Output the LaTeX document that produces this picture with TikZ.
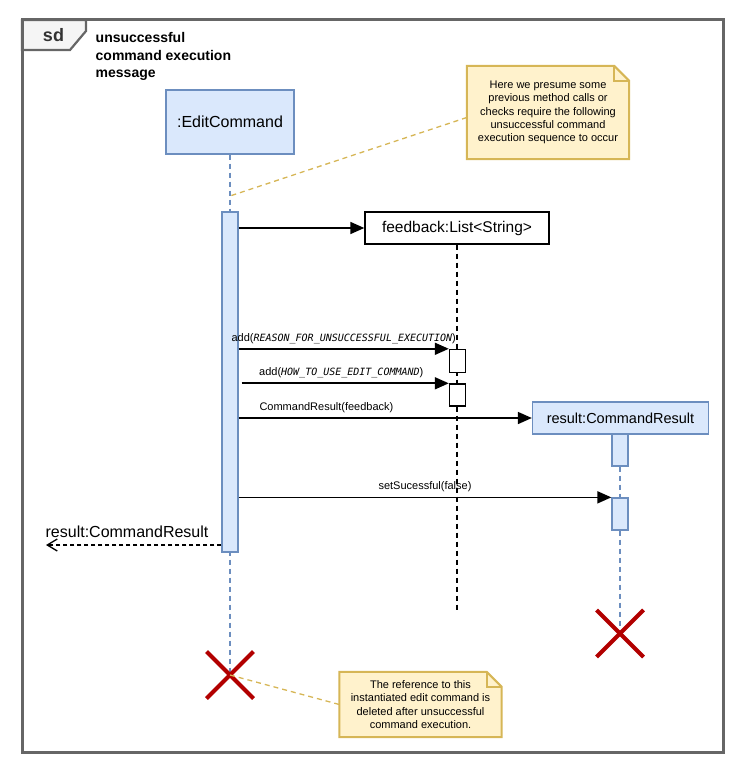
\documentclass[tikz,border=0pt]{standalone}
\usepackage{fontspec}
\setmainfont{Liberation Sans}
\newfontfamily\codefont{DejaVu Sans Mono}
\usepackage{tikz}
\usetikzlibrary{calc,arrows.meta,backgrounds}
\definecolor{objfill}{HTML}{DAE8FC}
\definecolor{objedge}{HTML}{6C8EBF}
\definecolor{notefill}{HTML}{FFF2CC}
\definecolor{noteedge}{HTML}{D6B656}
\definecolor{killred}{HTML}{B20000}
\definecolor{framegray}{HTML}{666666}
\definecolor{tabgray}{HTML}{F5F5F5}
\tikzset{
  msg/.style={-{Triangle[length=14pt,width=12pt]}, line width=1.7pt},
  reply/.style={-{Straight Barb[length=10pt,width=12pt]}, line width=1.3pt, dash pattern=on 4pt off 3pt},
  obj/.style={draw=objedge, fill=objfill, line width=1.3pt, inner sep=0pt, align=center},
  plainobj/.style={draw, fill=white, line width=1.4pt, inner sep=0pt, align=center},
  actbar/.style={obj, minimum width=16pt},
  callbox/.style={plainobj, minimum width=16pt},
  lifeline/.style={draw=objedge, line width=1.3pt, dash pattern=on 5pt off 4pt},
  blackline/.style={line width=1.8pt, dash pattern=on 5pt off 4pt},
  notebox/.style={inner sep=0pt, align=center, font=\fontsize{11}{13.3}\selectfont},
  noteline/.style={draw=noteedge, line width=1.3pt, dash pattern=on 5pt off 4pt},
  destroy/.style={draw=killred, line width=4pt},
  lbl/.style={font=\fontsize{11}{13}\selectfont, inner sep=0pt, anchor=base}
}
% note outline with folded corner, behind the text
\newcommand{\notefold}[1]{%
  \begin{pgfonlayer}{background}
    \draw[draw=noteedge, fill=notefill, line width=2pt]
      (#1.north west) -- ([xshift=-15pt]#1.north east) -- ([yshift=-15pt]#1.north east)
      -- (#1.south east) -- (#1.south west) -- cycle;
    \draw[draw=noteedge, line width=2pt]
      ([xshift=-15pt]#1.north east) -- ([xshift=-15pt,yshift=-15pt]#1.north east)
      -- ([yshift=-15pt]#1.north east);
  \end{pgfonlayer}}
\newcommand{\killmark}[1]{%
  \draw[destroy] ($(#1)+(-23.5,-23.5)$) -- ($(#1)+(23.5,23.5)$);
  \draw[destroy] ($(#1)+(-23.5,23.5)$) -- ($(#1)+(23.5,-23.5)$);}

\begin{document}
\begin{tikzpicture}[x=1pt, y=-1pt]
  \useasboundingbox (0,0) rectangle (739,762);

  % frame and its tab
  \draw[draw=framegray, fill=tabgray, line width=2.2pt]
    (22,20) -- (86,20) -- (86,31) -- (70,50) -- (22,50) -- cycle;
  \draw[draw=framegray, line width=3pt] (22,20) rectangle (723,752);
  \node[font=\bfseries\fontsize{18}{20}\selectfont, text=black!80, inner sep=0pt, anchor=base] (sd) at (53.5,42) {sd};
  \node[font=\bfseries\fontsize{14}{17.5}\selectfont, align=left, inner sep=0pt, anchor=north west] (title)
    at (95.5,32.5) {unsuccessful\\command execution\\message};

  % objects
  \node[obj, minimum width=128pt, minimum height=64pt, font=\fontsize{16}{19}\selectfont] (edit) at (230,122) {:EditCommand};
  \node[plainobj, minimum width=184pt, minimum height=32pt, font=\fontsize{15.5}{18}\selectfont] (fb) at (457,228) {feedback:List<String>};
  \node[obj, minimum width=176pt, minimum height=32pt, font=\fontsize{14.5}{17}\selectfont] (res) at (620.5,418) {result:CommandResult};

  \coordinate (x1) at (230,675);
  \coordinate (x2) at (620,633.5);
  \coordinate (fbend) at (457,610);
  \coordinate (ret) at (46,545);

  % lifelines
  \draw[lifeline] (edit.south) -- (x1);
  \draw[blackline] (fb.south) -- (fbend);

  % activations
  \node[actbar, minimum height=340pt] (act) at (230,382) {};
  \node[callbox, minimum height=23pt] (call1) at (457.5,361) {};
  \node[callbox, minimum height=22pt] (call2) at (457.5,395) {};
  \node[actbar, minimum height=32pt] (ract1) at (620,450) {};
  \node[actbar, minimum height=32pt] (ract2) at (620,514) {};
  \draw[lifeline] (ract1.south) -- (ract2.north);
  \draw[lifeline] (ract2.south) -- (x2);

  % messages
  \draw[msg] (act.east |- fb.west) -- (fb.west);
  \draw[msg] (act.east |- call1.north west) -- (call1.north west)
    node[lbl, midway, yshift=7.5pt] {add({\codefont\itshape\fontsize{10}{12}\selectfont REASON\_FOR\_UNSUCCESSFUL\_EXECUTION})};
  \draw[msg] ([xshift=3pt]act.east |- call2.north west) -- (call2.north west)
    node[lbl, midway, xshift=-4pt, yshift=8pt] {add({\codefont\itshape\fontsize{10}{12}\selectfont HOW\_TO\_USE\_EDIT\_COMMAND})};
  \draw[msg] (act.east |- res.west) -- (res.west)
    node[lbl, pos=0, anchor=base west, xshift=20pt, yshift=8pt] {CommandResult(feedback)};
  \draw[msg] (act.east |- ract2.north west) -- (ract2.north west)
    node[lbl, midway, yshift=7.5pt] {setSucessful(false)};
  \draw[reply] (act.west |- ret) -- (ret)
    node[lbl, pos=1, anchor=base west, xshift=-1pt, yshift=8pt, font=\fontsize{16}{19}\selectfont] {result:CommandResult};

  % destruction
  \killmark{x1}
  \killmark{x2}

  % notes
  \node[notebox, minimum width=162pt, minimum height=93pt] (note1) at (548,112.5)
    {Here we presume some\\previous method calls or\\checks require the following\\unsuccessful command\\execution sequence to occur};
  \notefold{note1}
  \node[notebox, minimum width=162pt, minimum height=65pt] (note2) at (420.5,704.5)
    {The reference to this\\instantiated edit command is\\deleted after unsuccessful\\command execution.};
  \notefold{note2}
  \draw[noteline] ([yshift=-5pt]note1.west) -- (230,196);
  \draw[noteline] (x1) -- (note2.west);
\end{tikzpicture}
\end{document}
